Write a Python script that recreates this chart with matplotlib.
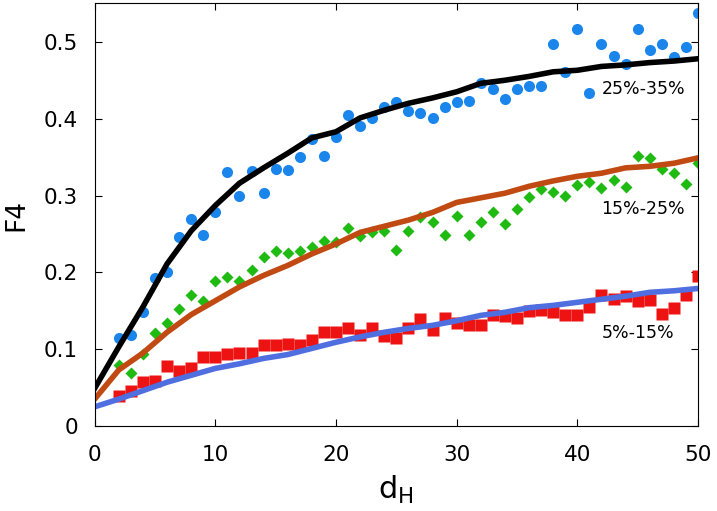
import numpy as np
import matplotlib
matplotlib.use("Agg")
import matplotlib.pyplot as plt

# scatter points (measured), x = 2..50
dh_pts = list(range(2, 51))
f4_high = [0.114, 0.119, 0.148, 0.192, 0.201, 0.246, 0.270, 0.249, 0.279, 0.330,
           0.299, 0.332, 0.303, 0.335, 0.333, 0.350, 0.373, 0.352, 0.376, 0.405,
           0.390, 0.401, 0.415, 0.422, 0.410, 0.408, 0.401, 0.415, 0.422, 0.423,
           0.447, 0.439, 0.426, 0.439, 0.442, 0.443, 0.497, 0.461, 0.517, 0.433,
           0.497, 0.481, 0.471, 0.517, 0.490, 0.497, 0.480, 0.493, 0.537]
f4_mid = [0.079, 0.069, 0.094, 0.121, 0.134, 0.152, 0.171, 0.163, 0.189, 0.194,
          0.189, 0.203, 0.220, 0.228, 0.225, 0.228, 0.233, 0.241, 0.239, 0.258,
          0.247, 0.252, 0.254, 0.229, 0.254, 0.272, 0.266, 0.248, 0.273, 0.248,
          0.265, 0.278, 0.263, 0.283, 0.298, 0.308, 0.304, 0.299, 0.314, 0.318,
          0.310, 0.320, 0.311, 0.351, 0.349, 0.334, 0.329, 0.315, 0.342]
f4_low = [0.039, 0.046, 0.057, 0.058, 0.078, 0.072, 0.076, 0.090, 0.090, 0.094,
          0.095, 0.095, 0.105, 0.106, 0.107, 0.106, 0.112, 0.122, 0.122, 0.127,
          0.119, 0.128, 0.117, 0.114, 0.127, 0.139, 0.125, 0.140, 0.134, 0.132,
          0.132, 0.145, 0.143, 0.140, 0.150, 0.151, 0.149, 0.145, 0.145, 0.155,
          0.171, 0.165, 0.169, 0.163, 0.164, 0.146, 0.154, 0.171, 0.195]

# model curves, x = 0, 2, ..., 50
dh_line = list(range(0, 51, 2))
fit_high = [0.049, 0.103, 0.155, 0.211, 0.254, 0.287, 0.316, 0.336, 0.355, 0.375,
            0.383, 0.401, 0.411, 0.420, 0.427, 0.435, 0.446, 0.450, 0.455, 0.461,
            0.463, 0.468, 0.470, 0.473, 0.475, 0.478]
fit_mid = [0.035, 0.073, 0.095, 0.122, 0.145, 0.163, 0.181, 0.196, 0.209, 0.224,
           0.237, 0.252, 0.260, 0.268, 0.278, 0.291, 0.297, 0.303, 0.312, 0.319,
           0.325, 0.329, 0.336, 0.338, 0.342, 0.349]
fit_low = [0.025, 0.035, 0.046, 0.057, 0.066, 0.075, 0.081, 0.088, 0.093, 0.101,
           0.109, 0.116, 0.122, 0.127, 0.131, 0.137, 0.144, 0.148, 0.154, 0.157,
           0.161, 0.165, 0.169, 0.174, 0.176, 0.179]

labels = ["25%-35%", "15%-25%", "5%-15%"]

fig = plt.figure(figsize=(7.17, 5.11), dpi=100)
ax = fig.add_axes([0.132, 0.1663, 0.8415, 0.827])

ax.plot(dh_pts, f4_high, 'o', color='#1a86ec', ms=8, mec='none')
ax.plot(dh_pts, f4_mid, 'D', color='#1fba12', ms=6, mec='none')
ax.plot(dh_pts, f4_low, 's', color='#ee1313', ms=8, mec='none')

ax.plot(dh_line, fit_high, color='black', lw=4)
ax.plot(dh_line, fit_mid, color='#c04a12', lw=4)
ax.plot(dh_line, fit_low, color='#4f6ee0', lw=4)

ax.text(42, 0.439, labels[0], fontsize=12.5, va='center')
ax.text(42, 0.282, labels[1], fontsize=12.5, va='center')
ax.text(42, 0.121, labels[2], fontsize=12.5, va='center')

ax.set_xlim(0, 50)
ax.set_ylim(0, 0.55)
ax.set_xticks([0, 10, 20, 30, 40, 50])
ax.set_yticks([0, 0.1, 0.2, 0.3, 0.4, 0.5])
ax.set_yticklabels(["0", "0.1", "0.2", "0.3", "0.4", "0.5"])
ax.tick_params(direction='in', top=True, right=True, length=5, labelsize=15.5)
ax.tick_params(axis='x', pad=14)
ax.tick_params(axis='y', pad=12)

ax.set_xlabel(r"$\mathregular{d_H}$", fontsize=22, labelpad=6)
ax.set_ylabel("F4", fontsize=19, labelpad=10)

fig.savefig("out.png", dpi=100)
